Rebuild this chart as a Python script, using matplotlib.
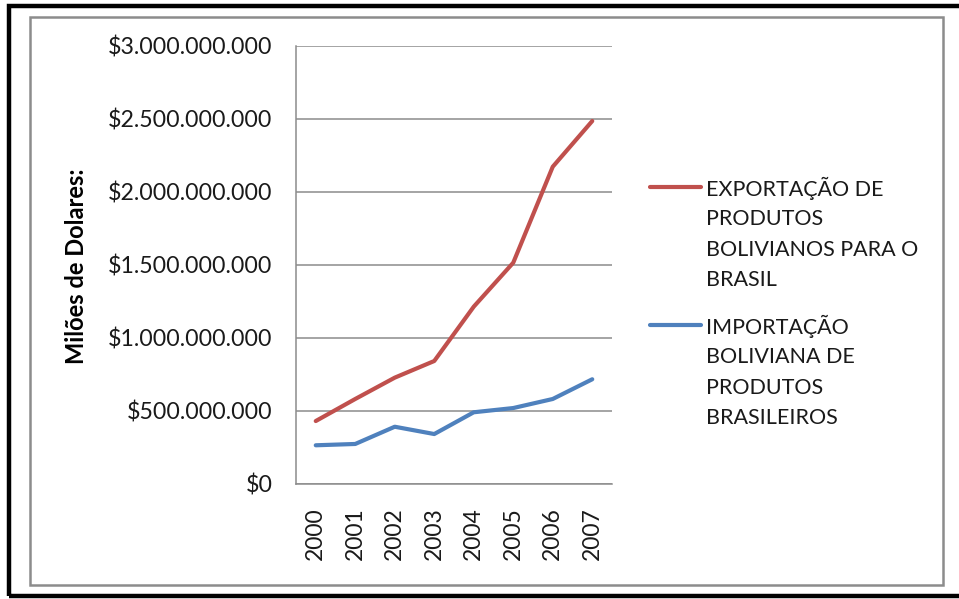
import numpy as np
import matplotlib
matplotlib.use("Agg")
import matplotlib.pyplot as plt
from matplotlib.lines import Line2D
from matplotlib.patches import Rectangle
from matplotlib.ticker import FuncFormatter

plt.rcParams['font.family'] = ['Lato', 'DejaVu Sans']

years = ["2000", "2001", "2002", "2003", "2004", "2005", "2006", "2007"]
exportacao = [0.429e9, 0.58e9, 0.726e9, 0.84e9, 1.212e9, 1.513e9, 2.17e9, 2.483e9]
importacao = [0.263e9, 0.272e9, 0.39e9, 0.34e9, 0.489e9, 0.518e9, 0.58e9, 0.715e9]
nomes = [["EXPORTAÇÃO DE", "PRODUTOS", "BOLIVIANOS PARA O", "BRASIL"],
         ["IMPORTAÇÃO", "BOLIVIANA DE", "PRODUTOS", "BRASILEIROS"]]
cores = ["#C0504D", "#4F81BD"]

W, H = 959, 599
fig = plt.figure(figsize=(W / 100, H / 100), dpi=100)

# molduras externas
fig.add_artist(Rectangle((9 / W, 1 - 596 / H), 980 / W, 590 / H, transform=fig.transFigure,
                         fill=False, ec="black", lw=3.2, clip_on=False))
fig.add_artist(Rectangle((30 / W, 1 - 585 / H), 913 / W, 568 / H, transform=fig.transFigure,
                         fill=False, ec="#8c8c8c", lw=1.8))

ax = fig.add_axes([296 / W, 1 - 483.7 / H, 316 / W, 438.2 / H])
x = np.arange(len(years))
ax.plot(x, exportacao, color=cores[0], lw=3.0, solid_capstyle="round", zorder=3)
ax.plot(x, importacao, color=cores[1], lw=3.0, solid_capstyle="round", zorder=3)

ax.set_xlim(-0.5, len(years) - 0.5)
ax.set_ylim(0, 3e9)
ax.set_yticks(np.arange(0, 3.01e9, 0.5e9))
ax.yaxis.set_major_formatter(FuncFormatter(lambda v, p: "$" + f"{int(v):,}".replace(",", ".")))
ax.set_xticks(x)
ax.set_xticklabels(years, rotation=90)
ax.grid(axis="y", color="#8c8c8c", lw=1.1)
ax.set_axisbelow(True)
ax.tick_params(axis="y", length=0, pad=17, labelsize=16.7, labelcolor="#1a1a1a")
ax.tick_params(axis="x", length=0, pad=17, labelsize=16.5, labelcolor="#1a1a1a")
for s in ["top", "right"]:
    ax.spines[s].set_visible(False)
for s in ["left", "bottom"]:
    ax.spines[s].set_color("#8c8c8c")
    ax.spines[s].set_linewidth(1.1)

fig.text(77 / W, 1 - 266 / H, "Milões de Dolares:", rotation=90, fontsize=17,
         fontweight="bold", ha="center", va="center")

# legenda
for k, (linhas, cor) in enumerate(zip(nomes, cores)):
    y0 = [186.5, 324.5][k]
    fig.add_artist(Line2D([650 / W, 701 / W], [1 - y0 / H, 1 - y0 / H], color=cor, lw=3.0,
                          solid_capstyle="round", transform=fig.transFigure))
    for i, txt in enumerate(linhas):
        fig.text(706 / W, 1 - (y0 + i * 30.6) / H, txt, fontsize=15.5, ha="left",
                 va="center_baseline", color="#1a1a1a")

fig.savefig("out.png", dpi=100)
